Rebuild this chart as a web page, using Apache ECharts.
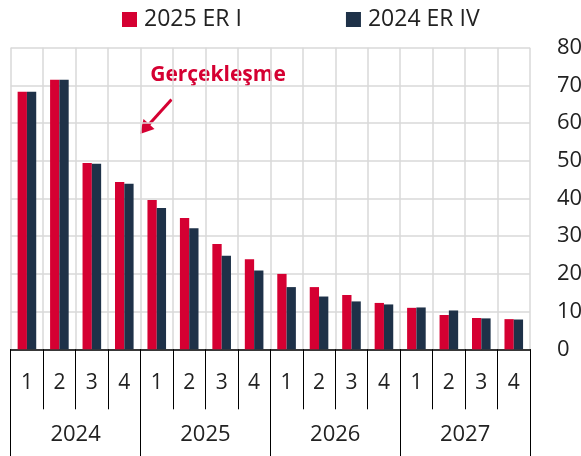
<!DOCTYPE html>
<html>
<head>
<meta charset="utf-8">
<script src="https://cdn.jsdelivr.net/npm/echarts@6/dist/echarts.min.js"></script>
<style>
  html, body { margin: 0; padding: 0; background: #fff; }
  #chart { width: 581px; height: 456px; }
</style>
</head>
<body>
<div id="chart"></div>
<script>
// Quarterly categories grouped by year
const years = ['2024', '2025', '2026', '2027'];
const quarters = ['1', '2', '3', '4'];
const categories = years.flatMap(y => quarters.map(q => y + '-' + q));

// Series values
const seriesNames = ['2025 ER I', '2024 ER IV'];
const er2025I = [68.3, 71.5, 49.4, 44.4, 39.6, 34.8, 27.9, 23.9, 20.0, 16.5, 14.4, 12.3, 11.0, 9.1, 8.3, 8.0];
const er2024IV = [68.3, 71.5, 49.2, 43.9, 37.5, 32.1, 24.8, 20.9, 16.5, 14.0, 12.7, 11.9, 11.1, 10.3, 8.2, 7.9];

// Value axis ticks
const yTicks = [0, 10, 20, 30, 40, 50, 60, 70, 80];

const annotationText = 'Gerçekleşme';

const RED = '#d50032';
const NAVY = '#1e3148';
const GRID = '#d9d9d9';
const FONT = '"Open Sans", "Noto Sans", sans-serif';

const chart = echarts.init(document.getElementById('chart'), null, { renderer: 'canvas' });

chart.setOption({
  animation: false,
  textStyle: { fontFamily: FONT },
  legend: {
    top: 3,
    left: 117,
    itemGap: 104,
    itemWidth: 15,
    itemHeight: 15,
    icon: 'rect',
    textStyle: { fontSize: 23, color: '#222', fontFamily: FONT, padding: [0, 0, 0, 2] },
    data: seriesNames
  },
  grid: {
    left: 10.7, right: 51, top: 47.7, bottom: 106.7,
    containLabel: false, outerBoundsMode: 'none'
  },
  xAxis: [
    {
      type: 'category',
      data: categories,
      position: 'bottom',
      axisLine: { show: true, lineStyle: { color: '#000', width: 1.5 } },
      axisTick: { show: true, interval: 0, length: 60, lineStyle: { color: '#000', width: 1 } },
      axisLabel: {
        interval: 0, margin: 23, fontSize: 21, color: '#222', fontFamily: FONT,
        formatter: v => v.split('-')[1]
      },
      splitLine: { show: true, interval: 0, lineStyle: { color: GRID, width: 1.5 } }
    },
    {
      type: 'category',
      data: years,
      position: 'bottom',
      axisLine: { show: false },
      axisTick: { show: true, interval: 0, length: 107, lineStyle: { color: '#000', width: 1 } },
      axisLabel: { interval: 0, margin: 74, fontSize: 22, color: '#222', fontFamily: FONT },
      splitLine: { show: false }
    }
  ],
  yAxis: {
    type: 'value',
    position: 'right',
    min: yTicks[0],
    max: yTicks[yTicks.length - 1],
    interval: 10,
    axisLine: { show: false },
    axisTick: { show: false },
    axisLabel: { margin: 27, fontSize: 22, color: '#222', fontFamily: FONT },
    splitLine: { show: true, lineStyle: { color: GRID, width: 1.5 } }
  },
  series: [
    {
      name: seriesNames[0],
      type: 'bar',
      data: er2025I,
      itemStyle: { color: RED },
      barWidth: 9.3,
      barGap: '0%'
    },
    {
      name: seriesNames[1],
      type: 'bar',
      data: er2024IV,
      itemStyle: { color: NAVY },
      barWidth: 9.3,
      barGap: '0%'
    }
  ],
  graphic: [
    {
      type: 'text',
      x: 218,
      y: 75,
      style: {
        text: annotationText, fill: RED, font: 'bold 21px ' + FONT,
        textAlign: 'center', textVerticalAlign: 'middle'
      }
    },
    {
      type: 'line',
      shape: { x1: 171.5, y1: 99.5, x2: 148, y2: 125.5 },
      style: { stroke: RED, lineWidth: 3 }
    },
    {
      type: 'polygon',
      shape: { points: [[140, 134], [143.5, 119], [154.5, 129]] },
      style: { fill: RED }
    }
  ]
});
</script>
</body>
</html>
